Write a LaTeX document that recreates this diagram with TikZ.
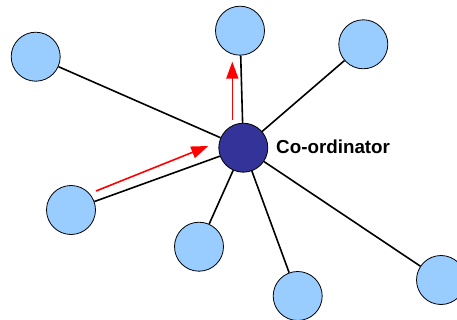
\documentclass[tikz,border=0pt]{standalone}
\usepackage{fontspec}
\setmainfont{Liberation Sans}
\usetikzlibrary{arrows.meta}
\definecolor{leafblue}{RGB}{153,204,255}
\definecolor{hubblue}{RGB}{51,51,153}
\begin{document}
\begin{tikzpicture}[x=1pt,y=-1pt,
		leaf/.style={circle,draw,fill=leafblue,minimum size=49pt,inner sep=0pt,line width=0.8pt},
		hub/.style={circle,draw,fill=hubblue,minimum size=49pt,inner sep=0pt,line width=0.8pt},
		link/.style={line width=1.6pt},
		msg/.style={red,line width=1.6pt,-{Triangle[length=17pt,width=12pt]}}]
			\useasboundingbox (0,0) rectangle (457,320);
			\node[hub] (hub) at (243.3,147.7) {};
			\node[anchor=base west,inner sep=0pt,font=\bfseries\fontsize{18.8}{20}\selectfont] (lbl) at (276,153.3) {Co-ordinator};
			\node[leaf] (top) at (240,30.7) {};
			\node[leaf] (topright) at (363.3,44.3) {};
			\node[leaf] (topleft) at (35.7,56.7) {};
			\node[leaf] (left) at (71,210) {};
			\node[leaf] (low) at (199,246.7) {};
			\node[leaf] (lowmid) at (297.7,296) {};
			\node[leaf] (lowright) at (441,280) {};
			\draw[link] (hub) -- (top);
			\draw[link] (hub) -- (topright);
			\draw[link] (hub) -- (topleft);
			\draw[link] (hub) -- (left);
			\draw[link] (hub) -- (low);
			\draw[link] (hub) -- (lowmid);
			\draw[link] (hub) -- (lowright);
			\coordinate (up0) at (232.3,120);
			\coordinate (up1) at (232.3,61.7);
			\coordinate (in0) at (96,191);
			\coordinate (in1) at (208.3,146);
			\draw[msg] (up0) -- (up1);
			\draw[msg] (in0) -- (in1);
		\end{tikzpicture}
\end{document}
